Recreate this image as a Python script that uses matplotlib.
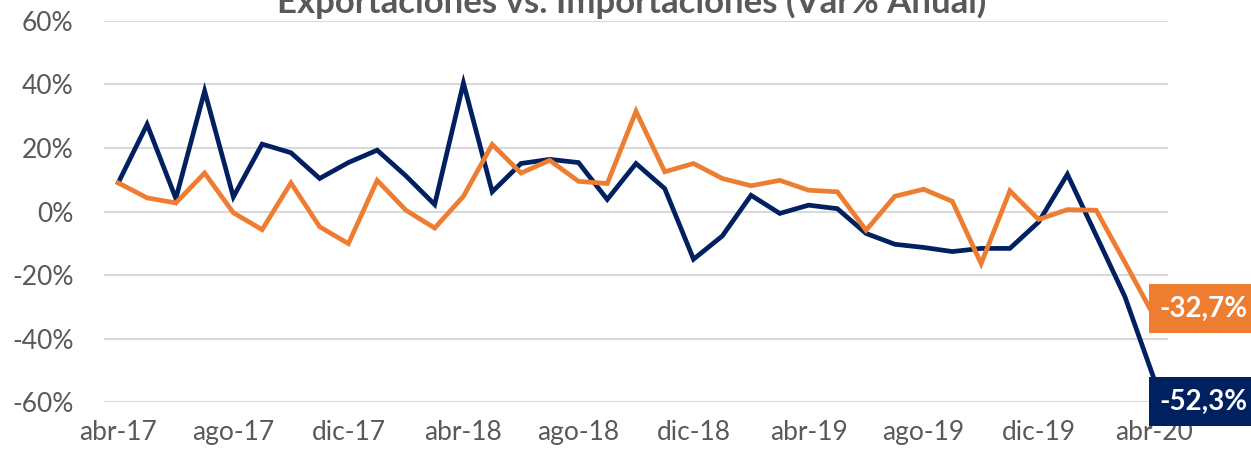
import matplotlib.pyplot as plt
import numpy as np

plt.rcParams["font.family"] = ["Lato", "DejaVu Sans"]

months = ["abr-17", "may-17", "jun-17", "jul-17", "ago-17", "sep-17", "oct-17", "nov-17",
          "dic-17", "ene-18", "feb-18", "mar-18", "abr-18", "may-18", "jun-18", "jul-18",
          "ago-18", "sep-18", "oct-18", "nov-18", "dic-18", "ene-19", "feb-19", "mar-19",
          "abr-19", "may-19", "jun-19", "jul-19", "ago-19", "sep-19", "oct-19", "nov-19",
          "dic-19", "ene-20", "feb-20", "mar-20", "abr-20"]

exportaciones = [9.1, 27.4, 4.1, 37.9, 4.6, 21.2, 18.5, 10.4, 15.4, 19.3, 11.2, 2.2,
                 40.4, 6.2, 15.1, 16.4, 15.4, 3.8, 15.1, 7.2, -15.0, -7.7, 5.1, -0.6,
                 2.0, 0.9, -6.9, -10.3, -11.3, -12.6, -11.6, -11.6, -3.3, 11.7, -7.5,
                 -26.8, -52.3]

importaciones = [9.0, 4.3, 2.7, 12.1, -0.4, -5.7, 9.0, -4.8, -10.1, 9.8, 0.4, -5.2,
                 4.8, 21.1, 12.1, 16.1, 9.5, 8.8, 31.5, 12.5, 15.1, 10.4, 8.1, 9.8,
                 6.7, 6.2, -5.9, 4.8, 7.0, 3.2, -16.4, 6.5, -2.5, 0.6, 0.4, -16.0,
                 -32.7]

NAVY = "#002060"
ORANGE = "#ED7D31"
GRAY = "#595959"

x = np.arange(len(months))

fig = plt.figure(figsize=(12.51, 4.51), dpi=100)
ax = fig.add_axes([0.0831, 0.108, 0.8506, 0.846])

ax.plot(x, exportaciones, color=NAVY, linewidth=3.4, solid_joinstyle="miter", zorder=3)
ax.plot(x, importaciones, color=ORANGE, linewidth=3.4, solid_joinstyle="miter", zorder=3)

ax.set_xlim(-0.5, len(months) - 0.5)
ax.set_ylim(-60, 60)
ax.set_yticks(np.arange(-60, 61, 20))
ax.set_yticklabels([f"{v}%" for v in range(-60, 61, 20)])
ax.set_xticks(x[::4])
ax.set_xticklabels(months[::4])

ax.grid(axis="y", color="#D9D9D9", linewidth=1.5)
ax.set_axisbelow(True)
for s in ax.spines.values():
    s.set_visible(False)
ax.tick_params(axis="both", length=0, colors=GRAY, labelsize=19)
ax.tick_params(axis="y", pad=22)
ax.tick_params(axis="x", pad=13)

ax.annotate(f"{importaciones[-1]:.1f}%".replace(".", ","), xy=(x[-1], importaciones[-1]),
            xytext=(36, 5), textcoords="offset points", ha="center", va="center",
            color="white", fontsize=20, fontweight="bold", annotation_clip=False,
            bbox=dict(boxstyle="square,pad=0.4", fc=ORANGE, ec="none"), zorder=5)
ax.annotate(f"{exportaciones[-1]:.1f}%".replace(".", ","), xy=(x[-1], exportaciones[-1]),
            xytext=(36, -17), textcoords="offset points", ha="center", va="center",
            color="white", fontsize=20, fontweight="bold", annotation_clip=False,
            bbox=dict(boxstyle="square,pad=0.4", fc=NAVY, ec="none"), zorder=5)

fig.text(0.505, 0.972, "Exportaciones vs. Importaciones (Var% Anual)", ha="center",
         va="baseline", fontsize=25, fontweight="bold", color=GRAY)

fig.savefig("out.png", dpi=100)
